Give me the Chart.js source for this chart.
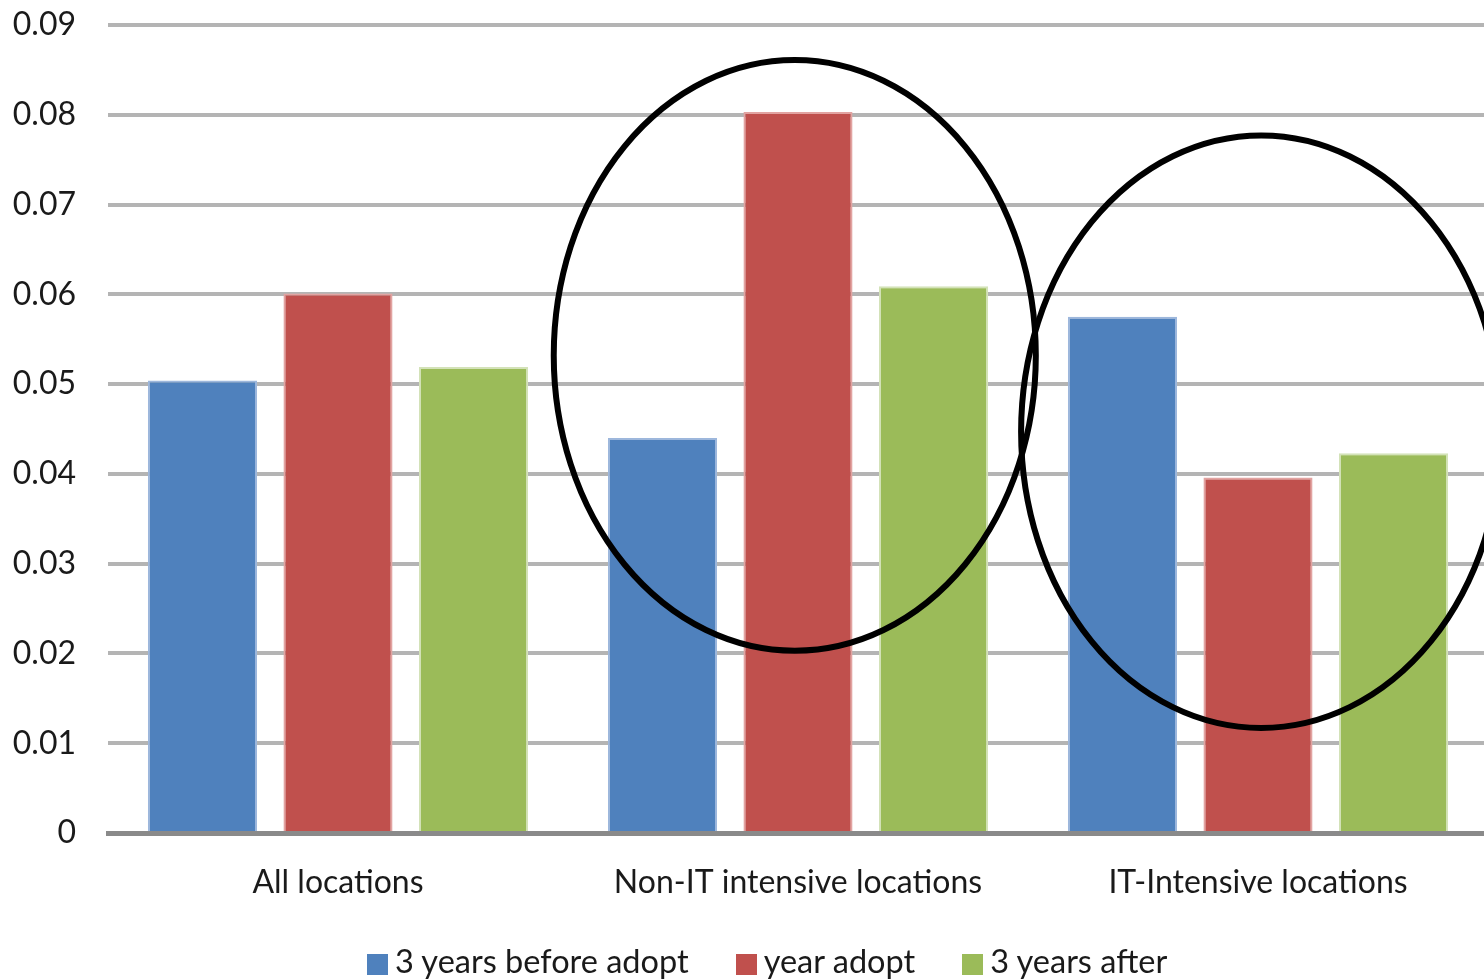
<!DOCTYPE html>
<html>
<head>
<meta charset="utf-8">
<script src="https://cdn.jsdelivr.net/npm/chart.js@4/dist/chart.umd.min.js"></script>
<style>
  html, body { margin: 0; padding: 0; background: #fff; overflow: hidden; }
  #wrap { position: relative; width: 1492px; height: 980px; }
  #legend { position: absolute; left: 367px; top: 941px; display: flex; align-items: center;
            font-family: Lato, "Open Sans", sans-serif; font-size: 32.5px; color: #1a1a1a; white-space: nowrap; }
  #legend .item { display: flex; align-items: center; margin-right: 47px; }
  #legend .box { width: 21px; height: 21px; margin-right: 7px; margin-top: 8px; }
</style>
</head>
<body>
<div id="wrap">
  <canvas id="chart"></canvas>
  <div id="legend"></div>
</div>
<script>
// Categories and series (share of firms, by location type)
const categories = ['All locations', 'Non-IT intensive locations', 'IT-Intensive locations'];
const seriesNames = ['3 years before adopt', 'year adopt', '3 years after'];
const beforeAdopt = [0.0504, 0.0440, 0.0575];
const yearAdopt   = [0.0601, 0.0803, 0.0396];
const yearsAfter  = [0.0519, 0.0609, 0.0423];
const seriesColors = ['#4F81BD', '#C0504D', '#9BBB59'];
const seriesEdges  = ['#9db7dc', '#e2a3a1', '#d3e2b8'];

// Highlight rings: category index, centre value, half-width (in categories), half-height (in value units)
const ringCategory = [1, 2];
const ringCentre   = [0.0532, 0.0447];
const ringHalfW    = [0.524, 0.522];
const ringHalfH    = [0.0329, 0.0330];
const ringShift    = [-0.007, 0.007];

const yMin = 0, yMax = 0.09, yStep = 0.01;

const ringPlugin = {
  id: 'rings',
  afterDatasetsDraw(chart) {
    const { ctx, scales: { x, y } } = chart;
    const catW = x.getPixelForValue(1) - x.getPixelForValue(0);
    ctx.save();
    ctx.strokeStyle = '#000';
    ctx.lineWidth = 6;
    ringCategory.forEach((c, i) => {
      const cx = x.getPixelForValue(c) + ringShift[i] * catW;
      const cy = y.getPixelForValue(ringCentre[i]);
      const rx = ringHalfW[i] * catW;
      const ry = y.getPixelForValue(ringCentre[i] - ringHalfH[i]) - cy;
      ctx.beginPath();
      ctx.ellipse(cx, cy, rx, ry, 0, 0, Math.PI * 2);
      ctx.stroke();
    });
    ctx.restore();
  }
};

const seriesData = [beforeAdopt, yearAdopt, yearsAfter];
const font = { family: 'Lato, "Open Sans", sans-serif', size: 32 };

new Chart(document.getElementById('chart'), {
  type: 'bar',
  data: {
    labels: categories,
    datasets: seriesNames.map((name, i) => ({
      label: name,
      data: seriesData[i],
      backgroundColor: seriesColors[i],
      borderColor: seriesEdges[i],
      borderWidth: { left: 2, right: 2, top: 2, bottom: 0 },
      categoryPercentage: 0.884,
      barPercentage: 0.805
    }))
  },
  options: {
    responsive: true,
    maintainAspectRatio: false,
    animation: false,
    layout: { padding: { top: 25, right: 4, left: 0, bottom: 0 } },
    plugins: { legend: { display: false }, tooltip: { enabled: false } },
    scales: {
      x: {
        z: 1,
        grid: { display: false, drawTicks: false },
        border: { display: true, color: '#8a8a8a', width: 5 },
        ticks: { font, color: '#1a1a1a', padding: 30, maxRotation: 0 },
        afterFit(scale) { scale.height = 147; scale.paddingLeft = 0; scale.paddingRight = 0; }
      },
      y: {
        min: yMin, max: yMax,
        grid: { color: '#b4b4b4', lineWidth: 4, drawTicks: false },
        border: { display: false },
        ticks: {
          stepSize: yStep, font, color: '#1a1a1a', padding: 32,
          callback: v => (Math.abs(v) < 1e-9 ? '0' : v.toFixed(2))
        },
        afterFit(scale) { scale.width = 108; scale.paddingTop = 0; scale.paddingBottom = 0; }
      }
    }
  },
  plugins: [ringPlugin]
});

// Legend row built from the series
const legend = document.getElementById('legend');
seriesNames.forEach((name, i) => {
  const item = document.createElement('div');
  item.className = 'item';
  const box = document.createElement('span');
  box.className = 'box';
  box.style.background = seriesColors[i];
  const txt = document.createElement('span');
  txt.textContent = name;
  item.appendChild(box);
  item.appendChild(txt);
  legend.appendChild(item);
});
</script>
</body>
</html>
